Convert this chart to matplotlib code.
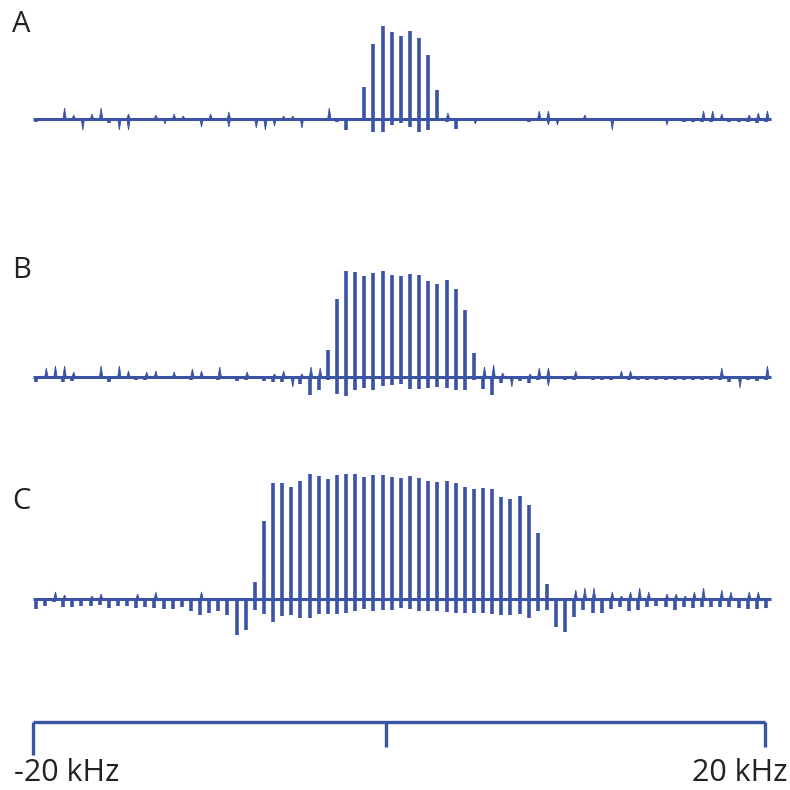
import numpy as np
from matplotlib import pyplot as plt

blue = '#3a53a4'
plt.rcParams['font.family'] = ['Open Sans', 'DejaVu Sans']

# sideband positions (kHz), 81 sticks spaced ~0.5 kHz
freq = -19.85 + 0.4988 * np.arange(81)

# ---- panel A ----
a_first = 36
a_up = [32, 75, 93, 87, 83, 88, 81, 64, 29]
a_down = [3, 2, 2, 2, 2, 2, 2, 2, 4, 2, 2, 2, 2, 2, 2, 2, 2, 2, 2, 2,
          2, 2, 2, 2, 2, 2, 2, 2, 2, 2, 2, 2, 2, 3, 11, 2, 2, 13, 13, 6,
          4, 8, 13, 11, 2, 3, 10, 2, 2, 2, 2, 2, 2, 2, 3, 2, 2, 2, 2, 2,
          2, 2, 2, 2, 2, 2, 2, 2, 2, 2, 2, 3, 3, 3, 3, 2, 3, 3, 3, 4, 3]
a_spikes = [(3, 11), (4, 4), (5, -11), (6, 5), (7, 11), (9, -11), (10, -11), (10, 5),
            (13, 4), (14, -5), (15, 5), (16, 3), (18, -8), (19, 5), (21, 7), (21, -8),
            (24, -9), (25, -11), (26, -7), (27, 3), (28, 3), (29, -9), (32, 11),
            (45, 6), (48, -5), (55, 8), (56, 8), (56, -6), (57, -6), (60, 4), (63, -11),
            (69, -6), (73, 8), (74, 8), (75, 5), (78, 4), (79, 6), (80, 8)]

# ---- panel B ----
b_first = 32
b_up = [27, 78, 106, 105, 101, 104, 106, 102, 101, 103, 102, 96, 93, 97, 88, 67, 24]
b_down = [5, 2, 2, 5, 4, 2, 2, 2, 5, 2, 2, 3, 3, 2, 2, 2, 2, 3, 2, 2,
          3, 2, 4, 3, 2, 4, 5, 5, 2, 7, 18, 13, 3, 17, 19, 13, 11, 13, 9, 8,
          7, 12, 12, 11, 10, 11, 13, 13, 3, 12, 18, 6, 2, 4, 6, 3, 2, 2, 3, 3,
          2, 3, 3, 3, 2, 3, 3, 3, 3, 3, 3, 3, 3, 3, 3, 3, 5, 2, 3, 4, 3]
b_spikes = [(1, 9), (2, 11), (3, 11), (4, 5), (7, 11), (9, 11), (10, 6), (12, 5), (13, 6),
            (15, 5), (17, 8), (18, 6), (20, 10), (23, 5), (26, 3), (27, 6), (28, -10),
            (29, 3), (30, 10), (31, 9), (49, 10), (50, 12), (51, 4), (52, -10), (54, 3),
            (55, 9), (56, 9), (56, -9), (59, 6), (64, 6), (65, 6), (75, 9), (77, -11), (80, 11)]

# ---- panel C ----
c_first = 24
c_up = [17, 78, 116, 116, 112, 118, 125, 123, 120, 124, 125, 125, 122, 124, 124, 122, 121,
        123, 121, 118, 117, 118, 116, 112, 110, 111, 110, 102, 100, 103, 94, 66, 15]
c_down = [10, 7, 3, 8, 8, 7, 7, 6, 9, 7, 7, 9, 8, 9, 10, 10, 8, 12, 16, 14,
          12, 16, 36, 31, 11, 15, 23, 17, 16, 19, 19, 15, 15, 15, 14, 12, 10, 12, 11, 11,
          9, 10, 12, 12, 12, 13, 14, 14, 14, 14, 15, 16, 16, 15, 19, 12, 11, 28, 33, 18,
          11, 14, 14, 10, 8, 12, 11, 8, 7, 8, 11, 8, 9, 8, 8, 8, 8, 9, 10, 10, 9]
c_spikes = [(2, 7), (3, 4), (6, 3), (7, 5), (11, 5), (13, 7), (18, 7), (59, 9), (60, 11),
            (61, 11), (63, 7), (64, 3), (65, 7), (66, 11), (67, 7), (69, 5), (70, 5), (71, 3),
            (72, 7), (73, 11), (75, 9), (76, 7), (78, 7), (79, 7)]

panels = [('A', a_first, a_up, a_down, a_spikes),
          ('B', b_first, b_up, b_down, b_spikes),
          ('C', c_first, c_up, c_down, c_spikes)]

# scale bar
scale_ends = [-20, 20]
scale_mid = -0.71
scale_labels = ['-20 kHz', '20 kHz']

#######################################################################################################################
# plotting
#######################################################################################################################
W = H = 790
fig = plt.figure(figsize=(7.9, 7.9), dpi=100)
xlim = (-399 / 18.3, (W - 399) / 18.3)

# (baseline px from top, ylim bottom, ylim top, label baseline px)
layout = [(119, -45, 115, 32), (377, -45, 115, 278), (599, -45, 135, 509)]

for (name, first, up, down, spikes), (base, lo, hi, lab_y) in zip(panels, layout):
    ax = fig.add_axes([0, 1 - (base - lo) / H, 1, (hi - lo) / H])
    ax.set_xlim(*xlim)
    ax.set_ylim(lo, hi)
    ax.axis('off')

    ax.hlines(0, freq[0] - 0.15, freq[-1] + 0.25, color=blue, lw=2.2)
    ax.vlines(freq, [-d for d in down], 0, color=blue, lw=2.6, capstyle='butt')
    ax.vlines(freq[first:first + len(up)], 0, up, color=blue, lw=2.6, capstyle='butt')
    for k, amp in spikes:
        x0 = freq[k] + 0.08
        ax.fill([x0 - 0.09, x0, x0 + 0.09], [0, amp, 0], color=blue, lw=0.6)

    fig.text(12 / W, 1 - lab_y / H, name, fontsize=21, color='#222222', va='baseline')

# scale bar axes
axs = fig.add_axes([0, 1 - 772 / H, 1, 70 / H])
axs.set_xlim(*xlim)
axs.set_ylim(-50, 20)
axs.axis('off')
axs.plot([scale_ends[0], scale_ends[1]], [0, 0], color=blue, lw=2.4, solid_capstyle='butt')
axs.plot([scale_ends[0], scale_ends[0]], [0, -33], color=blue, lw=2.4, solid_capstyle='butt')
axs.plot([scale_mid, scale_mid], [0, -25], color=blue, lw=2.4, solid_capstyle='butt')
axs.plot([scale_ends[1], scale_ends[1]], [0, -25], color=blue, lw=2.4, solid_capstyle='butt')

fig.text(14 / W, 1 - 781 / H, scale_labels[0], fontsize=22, color='#222222', va='baseline', ha='left')
fig.text(787 / W, 1 - 781 / H, scale_labels[1], fontsize=22, color='#222222', va='baseline', ha='right')

fig.savefig('out.png', dpi=100)
